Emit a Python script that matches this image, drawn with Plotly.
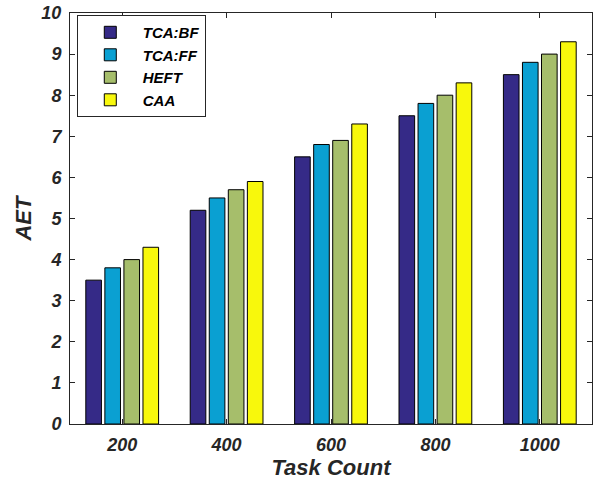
import plotly.graph_objects as go

categories = ["200", "400", "600", "800", "1000"]
series_names = ["TCA:BF", "TCA:FF", "HEFT", "CAA"]
tca_bf = [3.5, 5.2, 6.5, 7.5, 8.5]
tca_ff = [3.8, 5.5, 6.8, 7.8, 8.8]
heft = [4.0, 5.7, 6.9, 8.0, 9.0]
caa = [4.3, 5.9, 7.3, 8.3, 9.3]
colors = ["#352A87", "#0AA0D2", "#A6BE6B", "#F8F80C"]
y_ticks = list(range(0, 11))

font_family = "Liberation Sans, Arial, sans-serif"
fig = go.Figure()
for name, vals, col in zip(series_names, [tca_bf, tca_ff, heft, caa], colors):
    fig.add_trace(go.Bar(x=categories, y=vals, name=name,
                         marker=dict(color=col, line=dict(color="#000000", width=1))))

axis_common = dict(showline=True, linecolor="#262626", linewidth=1, mirror="ticks",
                   ticks="inside", ticklen=5, tickcolor="#262626", automargin=False,
                   tickfont=dict(family=font_family, size=18, color="#262626",
                                 weight="bold", style="italic"),
                   showgrid=False, zeroline=False, ticklabeloverflow="allow")

fig.update_layout(
    width=601, height=480,
    margin=dict(l=70, r=9, t=13, b=56),
    paper_bgcolor="white", plot_bgcolor="white",
    barmode="group", bargap=0.27, bargroupgap=0.18,
    font=dict(family=font_family, color="#262626"),
    xaxis=dict(**axis_common, range=[-0.5, 4.5], ticklabelstandoff=4,
               title=dict(text="Task Count", standoff=8,
                          font=dict(family=font_family, size=22, color="#262626",
                                    weight="bold", style="italic"))),
    yaxis=dict(**axis_common, range=[0, 10], tickvals=y_ticks, ticklabelstandoff=4,
               title=dict(text="AET", standoff=3,
                          font=dict(family=font_family, size=22, color="#262626",
                                    weight="bold", style="italic"))),
    legend=dict(x=0.013, y=0.995, xanchor="left", yanchor="top",
                bgcolor="white", bordercolor="#262626", borderwidth=1,
                font=dict(family=font_family, size=15, color="#000000",
                          weight="bold", style="italic"),
                itemwidth=55),
)

fig.write_html("out.html", config={"displayModeBar": False},
               post_script="document.body.style.margin='0';document.body.style.overflow='hidden';")
